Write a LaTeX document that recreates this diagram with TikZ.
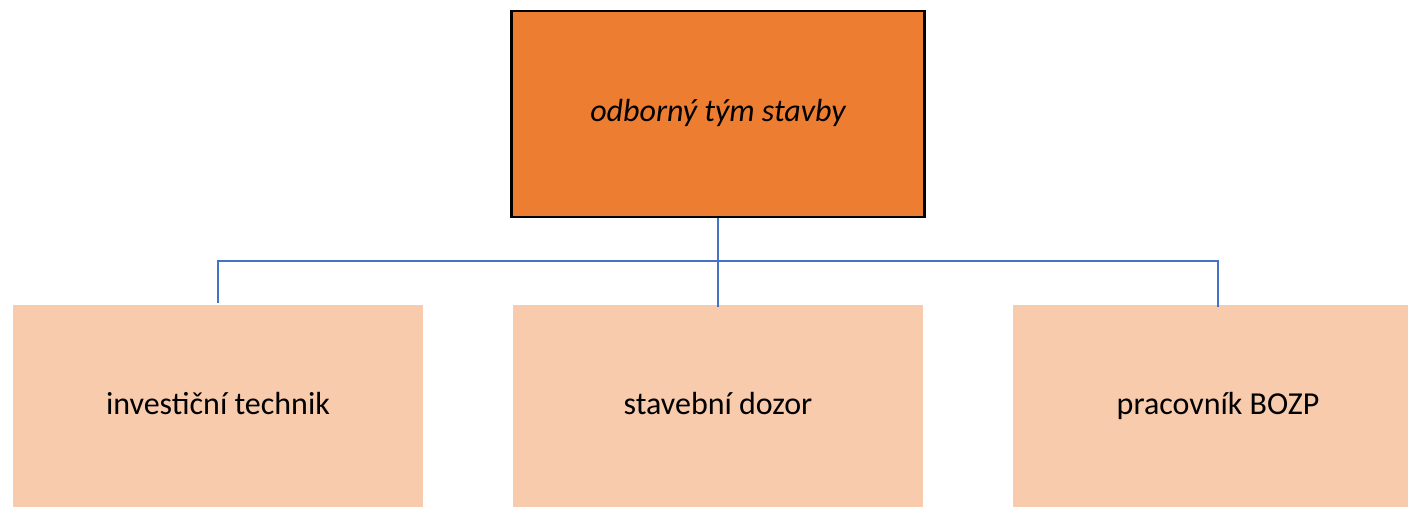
\documentclass[tikz,border=0pt]{standalone}
\usepackage{fontspec}
\setmainfont{Carlito}
\definecolor{topfill}{HTML}{ED7D31}
\definecolor{subfill}{HTML}{F8CBAD}
\definecolor{linkblue}{HTML}{4472C4}
\begin{document}
\begin{tikzpicture}[x=1pt,y=-1pt,
  topbox/.style={draw=black,line width=2.5pt,fill=topfill,minimum width=413pt,minimum height=206pt,inner sep=0pt,text height=22pt,text depth=7pt,font=\fontsize{32}{38}\selectfont\itshape},
  subbox/.style={draw=none,fill=subfill,minimum width=410pt,minimum height=204pt,inner sep=0pt,text height=22pt,text depth=7pt,font=\fontsize{32}{38}\selectfont},
  link/.style={draw=linkblue,line width=2.8pt}]
\useasboundingbox (0,0) rectangle (1408,506);
\clip (0,0) rectangle (1408,506);
\coordinate (bus) at (718,261);
\node[subbox] (a) at (218,407) {investiční technik};
\node[subbox] (b) at (718,407) {stavební dozor};
\node[subbox] (c) at (1218,407) {pracovník BOZP};
\draw[link] (a.north) ++(0,-2) |- (c.north |- bus) -- ([yshift=-2pt]c.north);
\draw[link] (bus) -- ([yshift=-2pt]b.north);
\node[topbox] (top) at (718,114) {odborný tým stavby};
\draw[link] (top.south) -- (bus);
\end{tikzpicture}
\end{document}
